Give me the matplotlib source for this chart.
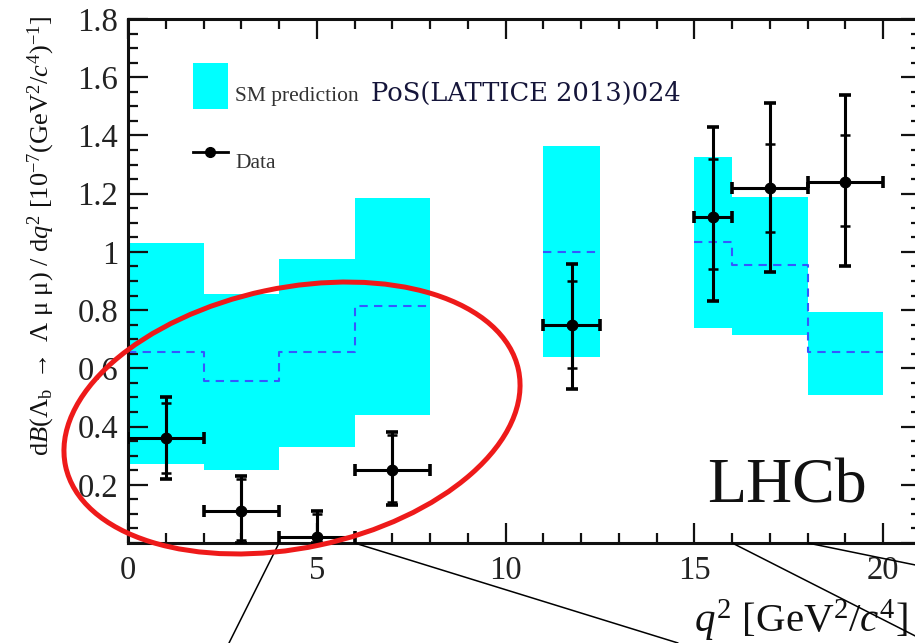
import matplotlib
matplotlib.use("Agg")
import matplotlib.pyplot as plt
from matplotlib.patches import Ellipse, ConnectionPatch, Rectangle
from matplotlib.lines import Line2D
from matplotlib.ticker import MultipleLocator, FuncFormatter

plt.rcParams['font.family'] = ['Liberation Serif', 'DejaVu Serif']
plt.rcParams['mathtext.fontset'] = 'custom'
plt.rcParams['mathtext.rm'] = 'Liberation Serif'
plt.rcParams['mathtext.it'] = 'Liberation Serif:italic'
plt.rcParams['mathtext.bf'] = 'Liberation Serif:bold'

# q^2 bins (GeV^2/c^4)
bin_lo = [0, 2, 4, 6, 11, 15, 16, 18]
bin_hi = [2, 4, 6, 8, 12.5, 16, 18, 20]

# SM prediction band and central value
sm_low = [0.27, 0.25, 0.33, 0.44, 0.64, 0.74, 0.715, 0.51]
sm_high = [1.03, 0.855, 0.975, 1.185, 1.365, 1.325, 1.19, 0.795]
sm_central = [0.655, 0.555, 0.655, 0.815, 1.0, 1.035, 0.955, 0.655]

# Measured differential branching fraction
data_x = [1.0, 3.0, 5.0, 7.0, 11.75, 15.5, 17.0, 19.0]
data_y = [0.36, 0.11, 0.02, 0.25, 0.75, 1.12, 1.22, 1.24]
stat_up = [0.12, 0.11, 0.08, 0.12, 0.15, 0.20, 0.15, 0.16]
stat_dn = [0.12, 0.10, 0.02, 0.11, 0.15, 0.18, 0.15, 0.15]
tot_up = [0.14, 0.12, 0.09, 0.13, 0.21, 0.31, 0.29, 0.30]
tot_dn = [0.14, 0.11, 0.02, 0.12, 0.22, 0.29, 0.29, 0.29]

# bin edges where the zoom lines leave the axis
link_x = [4, 6, 16, 18]

CYAN = '#00ffff'
BLUE = '#3558ff'

fig = plt.figure(figsize=(9.15, 6.43), dpi=100)
ax = fig.add_axes([128 / 915, 100 / 643, 793 / 915, 524 / 643])
ax.set_xlim(0, 21)
ax.set_ylim(0, 1.8)

# SM band
widths = [h - l for l, h in zip(bin_lo, bin_hi)]
heights = [h - l for l, h in zip(sm_low, sm_high)]
ax.bar(bin_lo, heights, width=widths, bottom=sm_low, align='edge',
       color=CYAN, linewidth=0, zorder=1)

# SM central value as dashed histogram, connecting adjacent bins
groups = []
for i in range(len(bin_lo)):
    if groups and bin_lo[i] == bin_hi[groups[-1][-1]]:
        groups[-1].append(i)
    else:
        groups.append([i])
for g in groups:
    xs = [bin_lo[i] for i in g] + [bin_hi[g[-1]]]
    ys = [sm_central[i] for i in g] + [sm_central[g[-1]]]
    ax.plot(xs, ys, drawstyle='steps-post', color=BLUE, lw=1.5,
            dashes=(4, 3), zorder=2)

# Data points with total and statistical uncertainties
xerr = [[x - l for x, l in zip(data_x, bin_lo)],
        [h - x for x, h in zip(data_x, bin_hi)]]
ax.errorbar(data_x, data_y, xerr=xerr, yerr=[tot_dn, tot_up], fmt='none',
            ecolor='black', elinewidth=2.2, capsize=4, capthick=2.6, zorder=4)
ax.errorbar(data_x, data_y, yerr=[stat_dn, stat_up], fmt='none',
            ecolor='black', elinewidth=2.2, capsize=3.5, capthick=1.8, zorder=4)
ax.plot(data_x, data_y, 'o', color='black', ms=7.5, zorder=5)

# Axes styling
ax.xaxis.set_major_locator(MultipleLocator(5))
ax.xaxis.set_minor_locator(MultipleLocator(1))
ax.yaxis.set_major_locator(MultipleLocator(0.2))
ax.yaxis.set_minor_locator(MultipleLocator(0.05))
ax.yaxis.set_major_formatter(FuncFormatter(lambda v, p: '' if abs(v) < 1e-9 else '%g' % round(v, 2)))
ax.xaxis.set_major_formatter(FuncFormatter(lambda v, p: '%g' % v))
ax.tick_params(which='both', direction='in', top=True, right=True, width=1.6,
               colors='#111111', labelcolor='#222222')
ax.tick_params(which='major', length=14.5, labelsize=23.5)
ax.tick_params(which='minor', length=7.5)
ax.tick_params(axis='x', pad=9)
ax.tick_params(axis='y', pad=7)
for s in ax.spines.values():
    s.set_linewidth(2.2)
    s.set_color('#111111')

# Legend
ax.add_patch(Rectangle((0.082, 0.828), 0.044, 0.088, transform=ax.transAxes,
                       color=CYAN, lw=0, zorder=3))
ax.text(0.135, 0.8435, 'SM prediction', transform=ax.transAxes, fontsize=15.5,
        color='#333333', va='baseline', ha='left')
ax.text(0.306, 0.8435, 'PoS(LATTICE 2013)024', transform=ax.transAxes,
        fontsize=18.5, color='#15153a', va='baseline', ha='left',
        family=['DejaVu Serif'])
ax.add_line(Line2D([0.082, 0.126], [0.746, 0.746], transform=ax.transAxes,
                   color='black', lw=2.0, zorder=3))
ax.add_line(Line2D([0.104], [0.746], transform=ax.transAxes, marker='o',
                   color='black', ms=7, zorder=3))
ax.text(0.135, 0.716, 'Data', transform=ax.transAxes, fontsize=15.5,
        color='#333333', va='baseline', ha='left')

ax.text(0.730, 0.078, 'LHCb', transform=ax.transAxes, fontsize=46,
        va='baseline', ha='left', color='#111111')

# Axis titles
fig.text(694 / 915, 11 / 643, r'$q^{2}$ [GeV$^{2}$/$c^{4}$]', fontsize=29.5,
         ha='left', va='baseline', color='#111111')
fig.text(41 / 915, 407 / 643,
         r'd$\mathit{B}$(Λ$_{\mathrm{b}}$ $\rightarrow$ Λ μ μ) / d$q^{2}$ '
         r'[10$^{-7}$(GeV$^{2}$/$c^{4}$)$^{-1}$]',
         rotation=90, fontsize=19, ha='center', va='center', color='#111111')

# Zoom lines leaving the horizontal axis
link_end = [(229, 0), (678, 0), (935, -3), (935, 74)]
for x0, (px, py) in zip(link_x, link_end):
    con = ConnectionPatch(xyA=(x0, 0), coordsA=ax.transData,
                          xyB=(px / 915, py / 643), coordsB=fig.transFigure,
                          color='black', lw=1.1, zorder=6)
    fig.add_artist(con)

# Highlight of the low-q^2 region
fig.add_artist(Ellipse((2.92, 2.25), 4.63, 2.60, angle=12,
                       transform=fig.dpi_scale_trans, fill=False,
                       edgecolor='#ee1a1a', lw=3.6, zorder=10))

fig.savefig('out.png', dpi=100)
